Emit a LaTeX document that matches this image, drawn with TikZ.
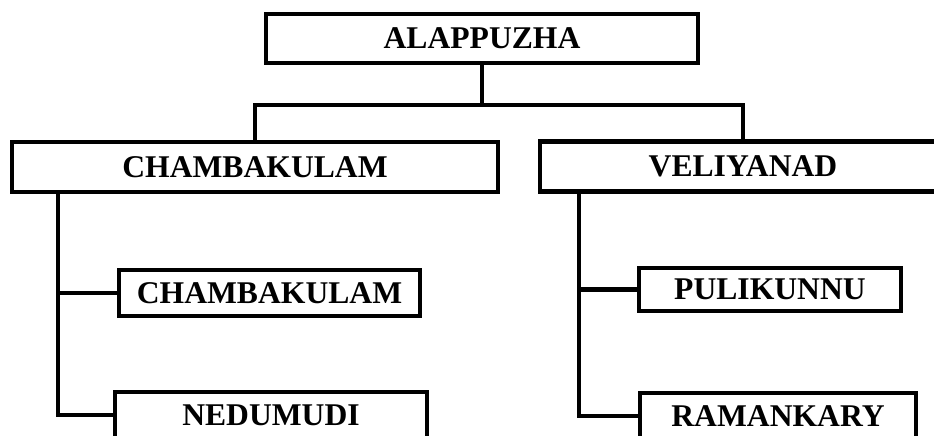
\documentclass[tikz,border=0pt]{standalone}
\usepackage{fontspec}
\setmainfont{Liberation Serif}
\usetikzlibrary{positioning}
\begin{document}
\begin{tikzpicture}[x=0.02cm, y=-0.02cm, line width=0.09cm, main/.style = {draw, rectangle, inner sep=0pt, font=\fontsize{18}{20}\selectfont\bfseries}]
    % Disegna i riquadri dell'albero

    \clip (0,0) rectangle (934,436);

    \node[main, minimum width=8.64cm, minimum height=0.98cm] (alap) at (482,38.5) {ALAPPUZHA};
    \node[main, minimum width=9.72cm, minimum height=1.0cm] (cham) at (255,167) {CHAMBAKULAM};
    \node[main, minimum width=8.12cm, minimum height=1.0cm] (veli) at (743,166.5) {VELIYANAD};
    \node[main, minimum width=6.02cm, minimum height=0.92cm] (chamb) at (269.5,293) {CHAMBAKULAM};
    \node[main, minimum width=6.24cm, minimum height=0.92cm] (nedu) at (271,415) {NEDUMUDI};
    \node[main, minimum width=5.24cm, minimum height=0.86cm] (puli) at (770,289.5) {PULIKUNNU};
    \node[main, minimum width=5.52cm, minimum height=0.92cm] (rama) at (778,416) {RAMANKARY};

    \draw (alap.south) -- ++(0,40) coordinate (bus);
    \draw (cham.north) |- (bus) -| (veli.north);
    \draw ([xshift=0.96cm]cham.south west) |- (chamb.west);
    \draw ([xshift=0.96cm]cham.south west) |- (nedu.west);
    \draw ([xshift=0.82cm]veli.south west) |- (puli.west);
    \draw ([xshift=0.82cm]veli.south west) |- (rama.west);

\end{tikzpicture}
\end{document}
